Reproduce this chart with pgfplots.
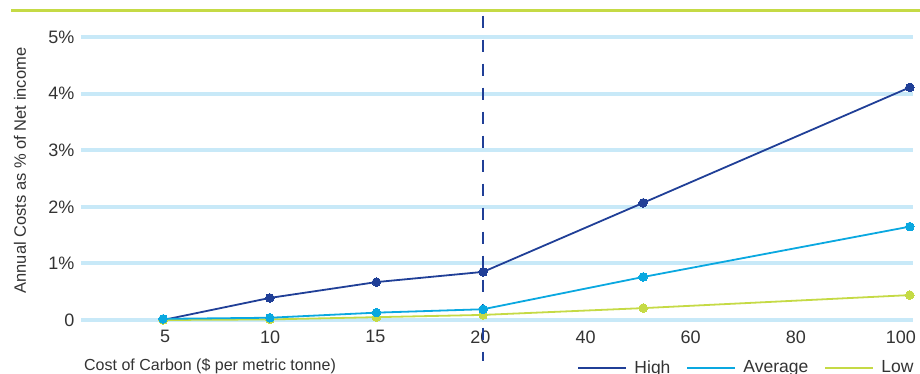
\documentclass[border=0pt]{standalone}
\usepackage{fontspec}
\setmainfont{Liberation Sans}
\usepackage{pgfplots}
\pgfplotsset{compat=1.18}
\definecolor{cHigh}{HTML}{203F97}
\definecolor{cAvg}{HTML}{0AA8E0}
\definecolor{cLow}{HTML}{C5DA45}
\definecolor{cGrid}{HTML}{C8E9F8}
\begin{document}
\begin{tikzpicture}
\useasboundingbox (0pt,0pt) rectangle (920pt,374pt);
\begin{scope}[overlay]
\draw[cLow, line width=3pt] (11pt,363pt) -- (920pt,363pt);
\begin{axis}[
 at={(81pt,54pt)}, anchor=south west,
 scale only axis, width=832pt, height=283pt,
 xmin=-0.77, xmax=7.03, ymin=0, ymax=5,
 clip=false,
 axis line style={draw=none},
 tick style={draw=none},
 xtick={0.018,1.003,1.989,2.975,3.960,4.946,5.931,6.917},
 xticklabels={5,10,15,20,40,60,80,100},
 ytick={0,...,5}, yticklabels={0,1\%,2\%,3\%,4\%,5\%},
 ymajorgrids, grid style={cGrid, line width=4pt},
 /pgf/number format/assume math mode=true,
 ticklabel style={font=\fontsize{18}{21}\selectfont, text=black!80},
 xticklabel style={yshift=-7pt},
 yticklabel style={xshift=-3pt},
 xlabel={Cost of Carbon (\$ per metric tonne)},
 xlabel style={at={(axis description cs:0.0036,-0.1784)}, anchor=base west, inner sep=0pt, font=\fontsize{16}{19}\selectfont, text=black!80},
 ylabel={Annual Costs as \% of Net income},
 ylabel style={at={(axis description cs:-0.0733,0.528)}, anchor=center, inner sep=0pt, font=\fontsize{16.5}{19}\selectfont, text=black!80},
 legend columns=3,
 legend style={draw=none, fill=none, at={(axis description cs:0.5965,-0.168)}, anchor=west, inner sep=0pt, font=\fontsize{17.5}{20}\selectfont, text=black!80,
   /tikz/every even column/.append style={column sep=14pt},
   /tikz/every odd column/.append style={column sep=5pt}},
 legend image code/.code={\draw[#1, line width=2pt] (0pt,0pt) -- (48pt,0pt);},
]
\addplot[cHigh, line width=1.8pt, mark=*, mark size=4.3pt, mark options={line width=0pt}, forget plot]
 coordinates {(0,0) (1,0.39) (2,0.67) (3,0.85) (4.5,2.07) (7,4.11)};
\addplot[cLow, line width=1.8pt, mark=*, mark size=4.3pt, mark options={line width=0pt}, forget plot]
 coordinates {(0,0) (1,0.01) (2,0.05) (3,0.09) (4.5,0.21) (7,0.44)};
\addplot[cAvg, line width=1.8pt, mark=*, mark size=4.3pt, mark options={line width=0pt}, forget plot]
 coordinates {(0,0.02) (1,0.04) (2,0.13) (3,0.19) (4.5,0.76) (7,1.65)};
\addplot[cHigh, line width=2pt, dash pattern=on 12pt off 12pt, forget plot]
 coordinates {(3,5.376) (3,-0.724)};
\addlegendimage{cHigh}
\addlegendentry{High}
\addlegendimage{cAvg}
\addlegendentry{Average}
\addlegendimage{cLow}
\addlegendentry{Low}
\end{axis}
\end{scope}
\end{tikzpicture}
\end{document}
